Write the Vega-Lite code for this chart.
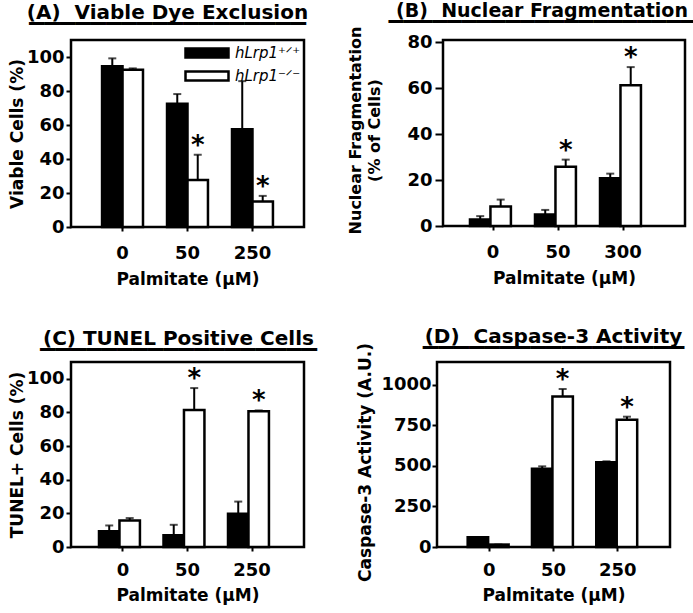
{
  "$schema": "https://vega.github.io/schema/vega-lite/v6.json",
  "background": "white",
  "padding": {"left": 7, "top": 0, "right": 0, "bottom": 0},
  "data": {"values": [
    {"panel": "A", "dose": "0", "genotype": "hLrp1⁺ᐟ⁺", "value": 94.5, "upper": 99.2, "sig": ""},
    {"panel": "A", "dose": "0", "genotype": "hLrp1⁻ᐟ⁻", "value": 92.5, "upper": 93.3, "sig": ""},
    {"panel": "A", "dose": "50", "genotype": "hLrp1⁺ᐟ⁺", "value": 72.5, "upper": 78.2, "sig": ""},
    {"panel": "A", "dose": "50", "genotype": "hLrp1⁻ᐟ⁻", "value": 27.6, "upper": 42.5, "sig": "*"},
    {"panel": "A", "dose": "250", "genotype": "hLrp1⁺ᐟ⁺", "value": 57.5, "upper": 85.8, "sig": ""},
    {"panel": "A", "dose": "250", "genotype": "hLrp1⁻ᐟ⁻", "value": 15.0, "upper": 18.3, "sig": "*"},
    {"panel": "B", "dose": "0", "genotype": "hLrp1⁺ᐟ⁺", "value": 2.8, "upper": 4.3, "sig": ""},
    {"panel": "B", "dose": "0", "genotype": "hLrp1⁻ᐟ⁻", "value": 8.5, "upper": 11.5, "sig": ""},
    {"panel": "B", "dose": "50", "genotype": "hLrp1⁺ᐟ⁺", "value": 5.0, "upper": 7.0, "sig": ""},
    {"panel": "B", "dose": "50", "genotype": "hLrp1⁻ᐟ⁻", "value": 25.8, "upper": 28.9, "sig": "*"},
    {"panel": "B", "dose": "300", "genotype": "hLrp1⁺ᐟ⁺", "value": 20.8, "upper": 22.8, "sig": ""},
    {"panel": "B", "dose": "300", "genotype": "hLrp1⁻ᐟ⁻", "value": 61.3, "upper": 69.2, "sig": "*"},
    {"panel": "C", "dose": "0", "genotype": "hLrp1⁺ᐟ⁺", "value": 9.3, "upper": 12.8, "sig": ""},
    {"panel": "C", "dose": "0", "genotype": "hLrp1⁻ᐟ⁻", "value": 15.8, "upper": 17.2, "sig": ""},
    {"panel": "C", "dose": "50", "genotype": "hLrp1⁺ᐟ⁺", "value": 7.0, "upper": 13.2, "sig": ""},
    {"panel": "C", "dose": "50", "genotype": "hLrp1⁻ᐟ⁻", "value": 81.5, "upper": 94.5, "sig": "*"},
    {"panel": "C", "dose": "250", "genotype": "hLrp1⁺ᐟ⁺", "value": 19.7, "upper": 27.0, "sig": ""},
    {"panel": "C", "dose": "250", "genotype": "hLrp1⁻ᐟ⁻", "value": 80.7, "upper": 81.2, "sig": "*"},
    {"panel": "D", "dose": "0", "genotype": "hLrp1⁺ᐟ⁺", "value": 60, "upper": 60, "sig": ""},
    {"panel": "D", "dose": "0", "genotype": "hLrp1⁻ᐟ⁻", "value": 15, "upper": 15, "sig": ""},
    {"panel": "D", "dose": "50", "genotype": "hLrp1⁺ᐟ⁺", "value": 482, "upper": 497, "sig": ""},
    {"panel": "D", "dose": "50", "genotype": "hLrp1⁻ᐟ⁻", "value": 928, "upper": 973, "sig": "*"},
    {"panel": "D", "dose": "250", "genotype": "hLrp1⁺ᐟ⁺", "value": 522, "upper": 528, "sig": ""},
    {"panel": "D", "dose": "250", "genotype": "hLrp1⁻ᐟ⁻", "value": 784, "upper": 803, "sig": "*"}
  ]},
  "spacing": 37,
  "vconcat": [
    {
      "spacing": 35,
      "hconcat": [
        {
          "width": 233, "height": 187,
          "title": {"text": ["(A)\u00a0 Viable Dye Exclusion", "▁▁▁▁▁▁▁▁▁▁▁▁▁▁▁▁▁▁"], "dx": -20, "dy": 2},
          "transform": [{"filter": "datum.panel == 'A'"}],
          "encoding": {
            "x": {"field": "dose", "type": "nominal", "sort": null, "title": "Palmitate (μM)", "scale": {"paddingInner": 0.37, "paddingOuter": 0.478}, "axis": {"titlePadding": 9}},
            "xOffset": {"field": "genotype", "type": "nominal", "sort": null, "scale": {"paddingInner": 0, "paddingOuter": 0}}
          },
          "layer": [
            {"mark": {"type": "bar", "stroke": "black", "strokeWidth": 2.5},
             "encoding": {
               "y": {"field": "value", "type": "quantitative", "title": "Viable Cells (%)", "scale": {"domain": [0, 110], "nice": false}, "axis": {"values": [0, 20, 40, 60, 80, 100], "labelOverlap": false, "titlePadding": 0}},
               "fill": {"field": "genotype", "type": "nominal", "sort": null, "scale": {"domain": ["hLrp1⁺ᐟ⁺", "hLrp1⁻ᐟ⁻"], "range": ["black", "white"]}, "legend": {"legendX": 124, "legendY": 1}}
             }},
            {"mark": {"type": "rule", "color": "black", "strokeWidth": 2},
             "encoding": {"y": {"field": "value", "type": "quantitative", "title": "Viable Cells (%)", "axis": {"values": [0, 20, 40, 60, 80, 100], "labelOverlap": false, "titlePadding": 0}}, "y2": {"field": "upper"}}},
            {"mark": {"type": "tick", "color": "black", "thickness": 2, "size": 8},
             "encoding": {"y": {"field": "upper", "type": "quantitative", "title": "Viable Cells (%)", "axis": {"values": [0, 20, 40, 60, 80, 100], "labelOverlap": false, "titlePadding": 0}}}},
            {"mark": {"type": "text", "fontSize": 26, "fontWeight": "bold", "baseline": "alphabetic", "dy": -1, "color": "black"},
             "encoding": {"y": {"field": "upper", "type": "quantitative", "title": "Viable Cells (%)", "axis": {"values": [0, 20, 40, 60, 80, 100], "labelOverlap": false, "titlePadding": 0}}, "text": {"field": "sig"}}}
          ]
        },
        {
          "width": 242, "height": 186,
          "title": {"text": ["(B)\u00a0 Nuclear Fragmentation", "▁▁▁▁▁▁▁▁▁▁▁▁▁▁▁▁▁▁▁▁▁"], "dx": -22, "dy": 10, "fontSize": 19},
          "transform": [{"filter": "datum.panel == 'B'"}],
          "encoding": {
            "x": {"field": "dose", "type": "nominal", "sort": null, "title": "Palmitate (μM)", "scale": {"paddingInner": 0.29, "paddingOuter": 0.506, "align": 0.41}, "axis": {"titlePadding": 9}},
            "xOffset": {"field": "genotype", "type": "nominal", "sort": null, "scale": {"paddingInner": 0, "paddingOuter": 0}}
          },
          "layer": [
            {"mark": {"type": "bar", "stroke": "black", "strokeWidth": 2.5},
             "encoding": {
               "y": {"field": "value", "type": "quantitative", "title": ["Nuclear Fragmentation", "(% of Cells)"], "scale": {"domain": [0, 81], "nice": false}, "axis": {"values": [0, 20, 40, 60, 80], "labelOverlap": false, "tickSize": 8, "labelPadding": 3, "titleFontSize": 16, "titleY": 90, "titleX": -96, "titleBaseline": "top", "titleLineHeight": 19}},
               "fill": {"field": "genotype", "type": "nominal", "sort": null, "scale": {"domain": ["hLrp1⁺ᐟ⁺", "hLrp1⁻ᐟ⁻"], "range": ["black", "white"]}, "legend": {"legendX": 5, "legendY": 4}}
             }},
            {"mark": {"type": "rule", "color": "black", "strokeWidth": 2},
             "encoding": {"y": {"field": "value", "type": "quantitative", "title": ["Nuclear Fragmentation", "(% of Cells)"], "axis": {"values": [0, 20, 40, 60, 80], "labelOverlap": false, "tickSize": 8, "labelPadding": 3, "titleFontSize": 16, "titleY": 90, "titleX": -96, "titleBaseline": "top", "titleLineHeight": 19}}, "y2": {"field": "upper"}}},
            {"mark": {"type": "tick", "color": "black", "thickness": 2, "size": 8},
             "encoding": {"y": {"field": "upper", "type": "quantitative", "title": ["Nuclear Fragmentation", "(% of Cells)"], "axis": {"values": [0, 20, 40, 60, 80], "labelOverlap": false, "tickSize": 8, "labelPadding": 3, "titleFontSize": 16, "titleY": 90, "titleX": -96, "titleBaseline": "top", "titleLineHeight": 19}}}},
            {"mark": {"type": "text", "fontSize": 26, "fontWeight": "bold", "baseline": "alphabetic", "dy": -1, "color": "black"},
             "encoding": {"y": {"field": "upper", "type": "quantitative", "title": ["Nuclear Fragmentation", "(% of Cells)"], "axis": {"values": [0, 20, 40, 60, 80], "labelOverlap": false, "tickSize": 8, "labelPadding": 3, "titleFontSize": 16, "titleY": 90, "titleX": -96, "titleBaseline": "top", "titleLineHeight": 19}}, "text": {"field": "sig"}}}
          ]
        }
      ]
    },
    {
      "spacing": 36,
      "hconcat": [
        {
          "width": 233, "height": 185,
          "title": {"text": ["(C) TUNEL Positive Cells", "▁▁▁▁▁▁▁▁▁▁▁▁▁▁▁▁▁▁"], "dx": -9, "dy": 2},
          "transform": [{"filter": "datum.panel == 'C'"}],
          "encoding": {
            "x": {"field": "dose", "type": "nominal", "sort": null, "title": "Palmitate (μM)", "scale": {"paddingInner": 0.256, "paddingOuter": 0.434}, "axis": {"labelPadding": 10, "titlePadding": 8}},
            "xOffset": {"field": "genotype", "type": "nominal", "sort": null, "scale": {"paddingInner": 0, "paddingOuter": 0}}
          },
          "layer": [
            {"mark": {"type": "bar", "stroke": "black", "strokeWidth": 2.5},
             "encoding": {
               "y": {"field": "value", "type": "quantitative", "title": "TUNEL+ Cells (%)", "scale": {"domain": [0, 110], "nice": false}, "axis": {"values": [0, 20, 40, 60, 80, 100], "labelOverlap": false, "titlePadding": 0}},
               "fill": {"field": "genotype", "type": "nominal", "sort": null, "scale": {"domain": ["hLrp1⁺ᐟ⁺", "hLrp1⁻ᐟ⁻"], "range": ["black", "white"]}, "legend": {"legendX": 7, "legendY": 2}}
             }},
            {"mark": {"type": "rule", "color": "black", "strokeWidth": 2},
             "encoding": {"y": {"field": "value", "type": "quantitative", "title": "TUNEL+ Cells (%)", "axis": {"values": [0, 20, 40, 60, 80, 100], "labelOverlap": false, "titlePadding": 0}}, "y2": {"field": "upper"}}},
            {"mark": {"type": "tick", "color": "black", "thickness": 2, "size": 8},
             "encoding": {"y": {"field": "upper", "type": "quantitative", "title": "TUNEL+ Cells (%)", "axis": {"values": [0, 20, 40, 60, 80, 100], "labelOverlap": false, "titlePadding": 0}}}},
            {"mark": {"type": "text", "fontSize": 26, "fontWeight": "bold", "baseline": "alphabetic", "dy": -1, "color": "black"},
             "encoding": {"y": {"field": "upper", "type": "quantitative", "title": "TUNEL+ Cells (%)", "axis": {"values": [0, 20, 40, 60, 80, 100], "labelOverlap": false, "titlePadding": 0}}, "text": {"field": "sig"}}}
          ]
        },
        {
          "width": 233, "height": 185,
          "title": {"text": ["(D)\u00a0 Caspase-3 Activity", "▁▁▁▁▁▁▁▁▁▁▁▁▁▁▁▁▁"], "dx": 0, "dy": 20},
          "transform": [{"filter": "datum.panel == 'D'"}],
          "encoding": {
            "x": {"field": "dose", "type": "nominal", "sort": null, "title": "Palmitate (μM)", "scale": {"paddingInner": 0.33, "paddingOuter": 0.477}, "axis": {"labelPadding": 10, "titlePadding": 8}},
            "xOffset": {"field": "genotype", "type": "nominal", "sort": null, "scale": {"paddingInner": 0, "paddingOuter": 0}}
          },
          "layer": [
            {"mark": {"type": "bar", "stroke": "black", "strokeWidth": 2.5},
             "encoding": {
               "y": {"field": "value", "type": "quantitative", "title": "Caspase-3 Activity (A.U.)", "scale": {"domain": [0, 1140], "nice": false}, "axis": {"values": [0, 250, 500, 750, 1000], "format": "d", "labelOverlap": false, "labelPadding": 1, "titleY": 100}},
               "fill": {"field": "genotype", "type": "nominal", "sort": null, "scale": {"domain": ["hLrp1⁺ᐟ⁺", "hLrp1⁻ᐟ⁻"], "range": ["black", "white"]}, "legend": {"legendX": 9, "legendY": 3}}
             }},
            {"mark": {"type": "rule", "color": "black", "strokeWidth": 2},
             "encoding": {"y": {"field": "value", "type": "quantitative", "title": "Caspase-3 Activity (A.U.)", "axis": {"values": [0, 250, 500, 750, 1000], "format": "d", "labelOverlap": false, "labelPadding": 1, "titleY": 100}}, "y2": {"field": "upper"}}},
            {"mark": {"type": "tick", "color": "black", "thickness": 2, "size": 8},
             "encoding": {"y": {"field": "upper", "type": "quantitative", "title": "Caspase-3 Activity (A.U.)", "axis": {"values": [0, 250, 500, 750, 1000], "format": "d", "labelOverlap": false, "labelPadding": 1, "titleY": 100}}}},
            {"mark": {"type": "text", "fontSize": 26, "fontWeight": "bold", "baseline": "alphabetic", "dy": -1, "color": "black"},
             "encoding": {"y": {"field": "upper", "type": "quantitative", "title": "Caspase-3 Activity (A.U.)", "axis": {"values": [0, 250, 500, 750, 1000], "format": "d", "labelOverlap": false, "labelPadding": 1, "titleY": 100}}, "text": {"field": "sig"}}}
          ]
        }
      ]
    }
  ],
  "config": {
    "font": "DejaVu Sans",
    "view": {"stroke": "black", "strokeWidth": 2.5},
    "title": {"font": "DejaVu Sans", "fontSize": 20, "fontWeight": "bold", "color": "black", "anchor": "middle", "frame": "group", "offset": 14, "baseline": "alphabetic", "lineHeight": 1},
    "axis": {"labelFont": "DejaVu Sans", "labelFontSize": 18, "labelFontWeight": "bold", "labelColor": "black", "titleFont": "DejaVu Sans", "titleFontSize": 17, "titleFontWeight": "bold", "titleColor": "black", "tickColor": "black", "tickWidth": 2, "domain": false, "grid": false, "labelOverlap": false},
    "axisX": {"labelAngle": 0, "tickSize": 4, "labelPadding": 13, "titlePadding": 4},
    "axisY": {"tickSize": 5, "labelPadding": 2, "titlePadding": 6},
    "legend": {"orient": "none", "title": null, "symbolType": "M-2,-0.42H2V0.42H-2Z", "symbolSize": 462, "symbolStrokeColor": "black", "symbolStrokeWidth": 2.5, "symbolOpacity": 1, "labelFont": "DejaVu Sans", "labelFontStyle": "italic", "labelFontWeight": "normal", "labelFontSize": 15, "labelColor": "black", "labelOffset": 16, "rowPadding": 1, "padding": 0}
  }
}
